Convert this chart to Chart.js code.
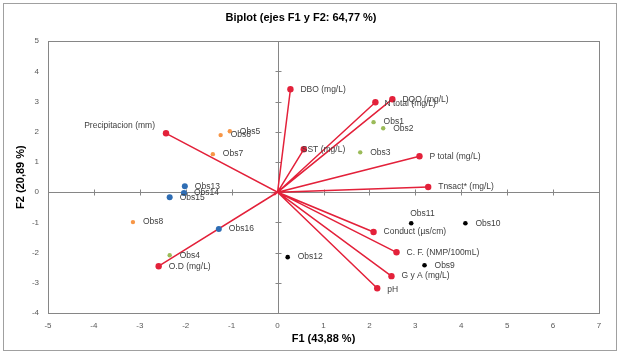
<!DOCTYPE html>
<html>
<head>
<meta charset="utf-8">
<script src="https://cdn.jsdelivr.net/npm/chart.js@4.4.0/dist/chart.umd.min.js"></script>
<style>
  body { margin: 0; background: #fff; }
  canvas { display: block; }
</style>
</head>
<body>
<canvas id="biplot" width="620" height="353"></canvas>
<script>
// variables (vectors from the origin)
const varNames = ['DBO (mg/L)', 'DQO (mg/L)', 'N total (mg/L)', 'SST (mg/L)', 'P total (mg/L)', 'Tnsact* (mg/L)',
    'Precipitacion (mm)', 'O.D (mg/L)', 'Conduct (µs/cm)', 'C. F. (NMP/100mL)', 'G y A (mg/L)', 'pH'];
const varF1 = [0.28, 2.50, 2.13, 0.57, 3.09, 3.28, -2.43, -2.59, 2.09, 2.59, 2.48, 2.17];
const varF2 = [3.41, 3.08, 2.98, 1.42, 1.19, 0.17, 1.95, -2.45, -1.32, -1.99, -2.78, -3.18];

// observations, one group per colour
const greenObs = ['Obs1', 'Obs2', 'Obs3', 'Obs4'];
const greenF1 = [2.09, 2.30, 1.80, -2.35];
const greenF2 = [2.32, 2.12, 1.32, -2.09];

const orangeObs = ['Obs5', 'Obs6', 'Obs7', 'Obs8'];
const orangeF1 = [-1.04, -1.24, -1.41, -3.15];
const orangeF2 = [2.02, 1.89, 1.26, -0.99];

const blueObs = ['Obs13', 'Obs14', 'Obs15', 'Obs16'];
const blueF1 = [-2.02, -2.04, -2.35, -1.28];
const blueF2 = [0.20, -0.03, -0.17, -1.22];

const blackObs = ['Obs9', 'Obs10', 'Obs11', 'Obs12'];
const blackF1 = [3.20, 4.09, 2.91, 0.22];
const blackF2 = [-2.42, -1.03, -1.03, -2.15];

const xTicks = [-5, -4, -3, -2, -1, 0, 1, 2, 3, 4, 5, 6, 7];
const yTicks = [-4, -3, -2, -1, 0, 1, 2, 3, 4, 5];

// label placement: [dx, dy, align]
const labelPos = {
    'Precipitacion (mm)': [-11, -8, 'right'],
    'SST (mg/L)': [-2, 0, 'left'],
    'Obs11': [-1, -10, 'left'],
    'N total (mg/L)': [9, 1, 'left'],
    'pH': [10, 1, 'left']
};

const red = '#e3213a';
const fontFam = '"Liberation Sans", Arial, sans-serif';

function pts(xs, ys) {
    return xs.map((x, i) => ({ x: x, y: ys[i] }));
}

const vectorData = [];
varF1.forEach((x, i) => {
    vectorData.push({ x: 0, y: 0 });
    vectorData.push({ x: x, y: varF2[i] });
});
const vectorLabels = [];
varNames.forEach(n => { vectorLabels.push(null); vectorLabels.push(n); });

const frameAndLabels = {
    id: 'frameAndLabels',
    beforeDatasetsDraw(chart) {
        const { ctx, chartArea: a, scales: { x, y } } = chart;
        ctx.save();
        ctx.strokeStyle = '#a0a0a0';
        ctx.lineWidth = 1;
        ctx.strokeRect(3.5, 3.5, chart.width - 7, chart.height - 6);
        ctx.strokeStyle = '#868686';
        ctx.strokeRect(Math.round(a.left) + 0.5, Math.round(a.top) + 0.5,
            Math.round(a.right - a.left), Math.round(a.bottom - a.top));
        const x0 = Math.round(x.getPixelForValue(0)) + 0.5;
        const y0 = Math.round(y.getPixelForValue(0)) + 0.5;
        ctx.beginPath();
        ctx.moveTo(x0, a.top); ctx.lineTo(x0, a.bottom);
        ctx.moveTo(a.left, y0); ctx.lineTo(a.right, y0);
        xTicks.forEach(v => {
            const px = Math.round(x.getPixelForValue(v)) + 0.5;
            ctx.moveTo(px, y0 - 3); ctx.lineTo(px, y0 + 3);
        });
        yTicks.forEach(v => {
            const py = Math.round(y.getPixelForValue(v)) + 0.5;
            ctx.moveTo(x0 - 3, py); ctx.lineTo(x0 + 3, py);
        });
        ctx.stroke();
        ctx.restore();
    },
    afterDatasetsDraw(chart) {
        const ctx = chart.ctx;
        ctx.save();
        ctx.font = '8.5px ' + fontFam;
        ctx.fillStyle = '#404040';
        ctx.textBaseline = 'middle';
        chart.data.datasets.forEach((ds, di) => {
            const meta = chart.getDatasetMeta(di);
            meta.data.forEach((el, i) => {
                const name = ds.names[i];
                if (!name) return;
                const p = labelPos[name] || [10, 0, 'left'];
                ctx.textAlign = p[2];
                ctx.fillText(name, el.x + p[0], el.y + p[1]);
            });
        });
        ctx.restore();
    }
};

new Chart(document.getElementById('biplot'), {
    type: 'scatter',
    data: {
        datasets: [
            { names: greenObs, data: pts(greenF1, greenF2), backgroundColor: '#9bbb59', borderWidth: 0, pointRadius: 2.2 },
            { names: orangeObs, data: pts(orangeF1, orangeF2), backgroundColor: '#f79646', borderWidth: 0, pointRadius: 2.2 },
            { names: blueObs, data: pts(blueF1, blueF2), backgroundColor: '#2e6db4', borderWidth: 0, pointRadius: 3 },
            { names: blackObs, data: pts(blackF1, blackF2), backgroundColor: '#000000', borderWidth: 0, pointRadius: 2.3 },
            {
                type: 'line',
                names: vectorLabels,
                data: vectorData,
                borderColor: red,
                borderWidth: 1.5,
                tension: 0,
                pointRadius: c => (c.dataIndex % 2 ? 3.2 : 0),
                pointBorderWidth: 0,
                pointBackgroundColor: red
            }
        ]
    },
    options: {
        responsive: false,
        animation: false,
        layout: { padding: { left: 3, right: 21, top: 0, bottom: 3 } },
        plugins: {
            legend: { display: false },
            tooltip: { enabled: false },
            title: {
                display: true,
                text: 'Biplot (ejes F1 y F2: 64,77 %)',
                color: '#000',
                font: { family: fontFam, size: 11, weight: 'bold' },
                padding: { top: 11, bottom: 17 }
            }
        },
        scales: {
            x: {
                type: 'linear',
                min: -5, max: 7,
                afterFit: s => { s.height = 37; },
                grid: { display: false, drawTicks: false },
                border: { display: false },
                afterBuildTicks: s => { s.ticks = xTicks.map(v => ({ value: v })); },
                ticks: {
                    autoSkip: false, maxRotation: 0, padding: 8,
                    color: '#595959',
                    font: { family: fontFam, size: 8 }
                },
                title: {
                    display: true, text: 'F1 (43,88 %)', color: '#000',
                    font: { family: fontFam, size: 11, weight: 'bold' },
                    padding: { top: 0, bottom: 4 }
                }
            },
            y: {
                type: 'linear',
                min: -4, max: 5,
                afterFit: s => { s.width = 45; },
                grid: { display: false, drawTicks: false },
                border: { display: false },
                afterBuildTicks: s => { s.ticks = yTicks.map(v => ({ value: v })); },
                ticks: {
                    autoSkip: false, padding: 9,
                    color: '#595959',
                    font: { family: fontFam, size: 8 }
                },
                title: {
                    display: true, text: 'F2 (20,89 %)', color: '#000',
                    font: { family: fontFam, size: 11, weight: 'bold' },
                    padding: { top: 11, bottom: 0 }
                }
            }
        }
    },
    plugins: [frameAndLabels]
});
</script>
</body>
</html>
